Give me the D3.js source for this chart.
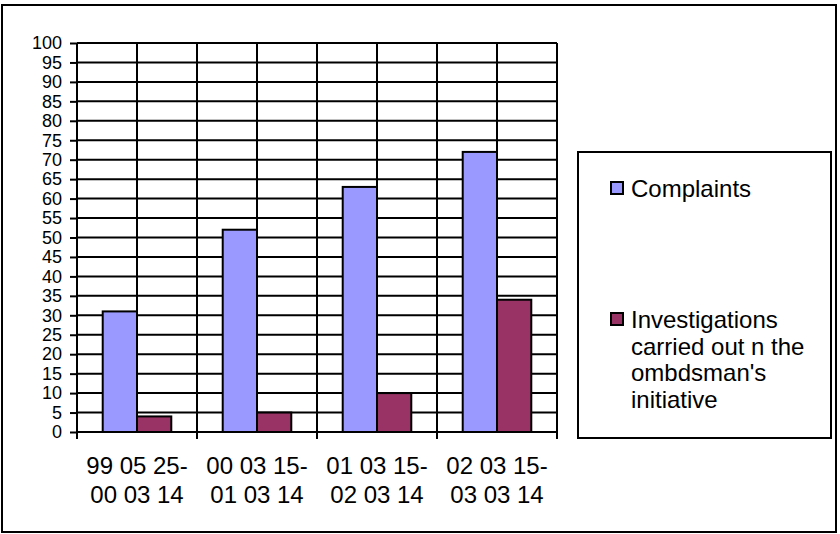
<!DOCTYPE html>
<html>
<head>
<meta charset="utf-8">
<script src="https://cdn.jsdelivr.net/npm/d3@7/dist/d3.min.js"></script>
<style>
  html, body { margin: 0; padding: 0; background: #fff; }
  svg { display: block; font-family: "Liberation Sans", Arial, sans-serif; }
</style>
</head>
<body>
<svg id="chart" width="840" height="534"></svg>
<script>
// Periods (two-line labels) and yearly counts
const periods = ["99 05 25-|00 03 14", "00 03 15-|01 03 14", "01 03 15-|02 03 14", "02 03 15-|03 03 14"];
const seriesNames = ["Complaints", "Investigations carried out n the ombdsman's initiative"];
const complaints = [31, 52, 63, 72];
const investigations = [4, 5, 10, 34];
const yTicks = d3.range(0, 101, 5);
const seriesColors = ["#9999FF", "#993366"];

const svg = d3.select("#chart");
const plot = { left: 77, right: 557, top: 43, bottom: 432 };

// outer frame
svg.append("rect")
  .attr("x", 2).attr("y", 5).attr("width", 834).attr("height", 527)
  .attr("fill", "#fff").attr("stroke", "#000").attr("stroke-width", 2);

const x0 = d3.scaleBand().domain(periods).range([plot.left, plot.right]).paddingInner(0).paddingOuter(0);
const x1 = d3.scaleBand().domain(seriesNames).range([0, x0.bandwidth()]).paddingInner(0).paddingOuter(0.75);
const y = d3.scaleLinear().domain([0, 100]).range([plot.bottom, plot.top]);

const g = svg.append("g");

// horizontal gridlines
g.selectAll("line.hgrid").data(yTicks).join("line")
  .attr("class", "hgrid")
  .attr("x1", plot.left).attr("x2", plot.right)
  .attr("y1", d => y(d)).attr("y2", d => y(d))
  .attr("stroke", "#000").attr("stroke-width", 2);

// vertical gridlines at category edges and mid-points
const vLines = [];
periods.forEach(p => { vLines.push(x0(p)); vLines.push(x0(p) + x0.bandwidth() / 2); });
vLines.push(x0(periods[periods.length - 1]) + x0.bandwidth());
g.selectAll("line.vgrid").data(vLines).join("line")
  .attr("class", "vgrid")
  .attr("x1", d => d).attr("x2", d => d)
  .attr("y1", plot.top).attr("y2", plot.bottom)
  .attr("stroke", "#000").attr("stroke-width", 2);

// bars
const rows = periods.map((p, i) => ({ period: p, values: [complaints[i], investigations[i]] }));
const groups = g.selectAll("g.grp").data(rows).join("g")
  .attr("class", "grp")
  .attr("transform", d => `translate(${x0(d.period)},0)`);
groups.selectAll("rect").data(d => d.values.map((v, k) => ({ name: seriesNames[k], v, k }))).join("rect")
  .attr("x", d => x1(d.name))
  .attr("width", x1.bandwidth())
  .attr("y", d => y(d.v))
  .attr("height", d => y(0) - y(d.v))
  .attr("fill", d => seriesColors[d.k])
  .attr("stroke", "#000").attr("stroke-width", 2);

// y axis
const yAxis = g.append("g")
  .attr("transform", `translate(${plot.left},0)`)
  .call(d3.axisLeft(y).tickValues(yTicks).tickSize(7).tickPadding(8));
yAxis.selectAll("path, line").attr("stroke", "#000").attr("stroke-width", 2);
yAxis.select(".domain").attr("d", `M0,${plot.top}V${plot.bottom}`);
yAxis.selectAll("text").attr("font-size", 18).attr("fill", "#000").attr("font-family", "Liberation Sans, Arial, sans-serif");

// x axis with ticks at category boundaries
const edges = periods.map(p => x0(p)).concat([plot.right]);
const xAxis = g.append("g");
xAxis.append("line")
  .attr("x1", plot.left).attr("x2", plot.right)
  .attr("y1", plot.bottom).attr("y2", plot.bottom)
  .attr("stroke", "#000").attr("stroke-width", 2);
xAxis.selectAll("line.tick").data(edges).join("line")
  .attr("class", "tick")
  .attr("x1", d => d).attr("x2", d => d)
  .attr("y1", plot.bottom).attr("y2", plot.bottom + 7)
  .attr("stroke", "#000").attr("stroke-width", 2);
const labels = xAxis.selectAll("text.cat").data(periods).join("text")
  .attr("class", "cat")
  .attr("text-anchor", "middle")
  .attr("font-size", 24)
  .attr("fill", "#000");
labels.each(function (p) {
  const t = d3.select(this);
  p.split("|").forEach((part, i) => {
    t.append("tspan")
      .attr("x", x0(p) + x0.bandwidth() / 2)
      .attr("y", 474 + i * 29)
      .text(part);
  });
});

// legend
const legend = svg.append("g");
legend.append("rect")
  .attr("x", 578).attr("y", 152).attr("width", 253).attr("height", 286)
  .attr("fill", "#fff").attr("stroke", "#000").attr("stroke-width", 2);
const legendItems = [
  { lines: ["Complaints"], y: 197, k: 0 },
  { lines: ["Investigations", "carried out n the", "ombdsman's", "initiative"], y: 328, k: 1 }
];
legendItems.forEach(item => {
  legend.append("rect")
    .attr("x", 611).attr("y", item.y - 15).attr("width", 12).attr("height", 12)
    .attr("fill", seriesColors[item.k]).attr("stroke", "#000").attr("stroke-width", 2);
  const t = legend.append("text").attr("font-size", 24).attr("fill", "#000");
  item.lines.forEach((ln, i) => {
    t.append("tspan").attr("x", 631).attr("y", item.y + i * 26.7).text(ln);
  });
});
</script>
</body>
</html>
